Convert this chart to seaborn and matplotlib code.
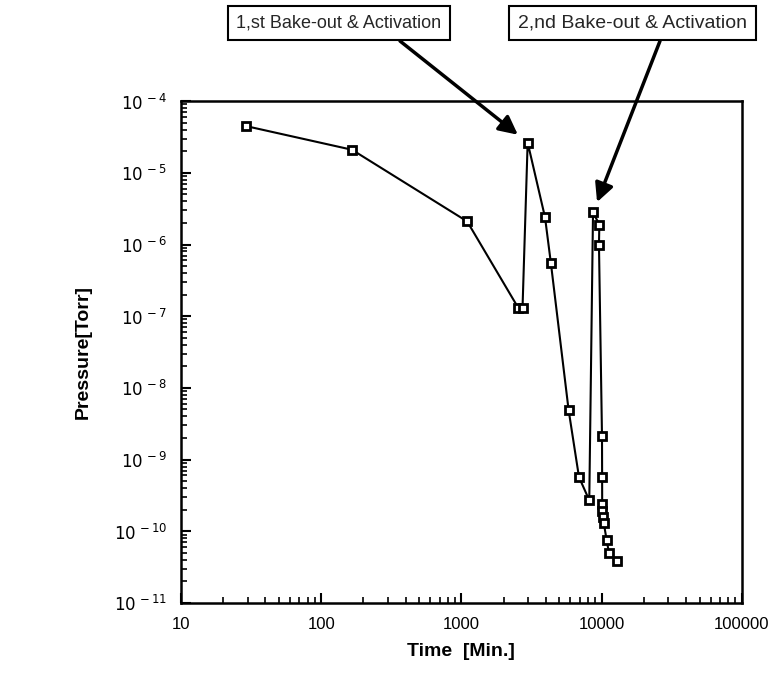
import math
import seaborn as sns
import pandas as pd
import matplotlib.pyplot as plt
import matplotlib.ticker as mticker

# Time [min] and pressure [Torr]
time_min = [29, 166, 1100, 2550, 2730, 2970, 3950, 4350, 5820, 6900, 8170,
            8690, 9640, 9580, 10070, 10090, 10100, 10150, 10200, 10370,
            10870, 11290, 12940]
pressure_torr = [4.5e-5, 2.1e-5, 2.1e-6, 1.3e-7, 1.3e-7, 2.65e-5, 2.4e-6,
                 5.5e-7, 4.9e-9, 5.7e-10, 2.7e-10, 2.8e-6, 1.9e-6, 1.0e-6,
                 2.1e-9, 5.7e-10, 2.4e-10, 1.9e-10, 1.6e-10, 1.3e-10,
                 7.5e-11, 5.0e-11, 3.8e-11]

ann_text = ['1,st Bake-out & Activation', '2,nd Bake-out & Activation']
ann_time = [2970, 8690]
ann_pressure = [2.65e-5, 2.8e-6]

df = pd.DataFrame({'Time': time_min, 'Pressure': pressure_torr})

sns.set_style('ticks')
plt.rcParams['font.family'] = ['Liberation Sans', 'DejaVu Sans']

fig = plt.figure(figsize=(7.8, 6.93), dpi=100, facecolor='white')
ax = fig.add_axes([0.232, 0.130, 0.719, 0.724])

sns.lineplot(x='Time', y='Pressure', data=df, sort=False, color='black',
             lw=1.5, marker='s', markersize=6, markerfacecolor='white',
             markeredgecolor='black', markeredgewidth=2, ax=ax)

ax.set_xscale('log')
ax.set_yscale('log')
ax.set_xlim(10, 100000)
ax.set_ylim(1e-11, 1e-4)

ax.xaxis.set_major_locator(mticker.FixedLocator([10, 100, 1000, 10000, 100000]))
ax.xaxis.set_major_formatter(mticker.FuncFormatter(lambda v, p: f'{int(round(v))}'))
ax.yaxis.set_major_locator(mticker.LogLocator(base=10, numticks=10))
ax.yaxis.set_major_formatter(mticker.FuncFormatter(
    lambda v, p: r'$10^{\,%d}$' % round(math.log10(v))))
ax.tick_params(which='major', direction='in', length=7, width=1.5,
               labelsize=12, pad=10, color='black', labelcolor='black')
ax.tick_params(which='minor', direction='in', length=4, width=1.2, color='black')
for s in ax.spines.values():
    s.set_linewidth(1.8)
    s.set_color('black')

ax.set_xlabel('Time  [Min.]', fontsize=14, fontweight='bold', labelpad=8, color='black')
ax.set_ylabel('Pressure[Torr]', fontsize=14, fontweight='bold', labelpad=16, color='black')

# Annotation boxes
box = dict(boxstyle='square,pad=0.45', fc='white', ec='black', lw=1.5)
fig.text(339 / 780, 1 - 23 / 693, ann_text[0], ha='center', va='center',
         fontsize=13, bbox=box)
fig.text(518 / 780, 1 - 23 / 693, ann_text[1], ha='left', va='center',
         fontsize=14, bbox=box)

# Arrows from box bottoms to the peaks
arrow_start = [(400, 652), (660, 652)]
shrink = [9, 8]
for t, p, st, sh in zip(ann_time, ann_pressure, arrow_start, shrink):
    ax.annotate('', xy=(t, p), xycoords='data',
                xytext=st, textcoords='figure pixels',
                arrowprops=dict(arrowstyle='-|>', color='black', lw=2.5,
                                mutation_scale=28, shrinkA=0, shrinkB=sh),
                annotation_clip=False)

ax.grid(False)
fig.savefig('out.png', dpi=100, facecolor='white')
